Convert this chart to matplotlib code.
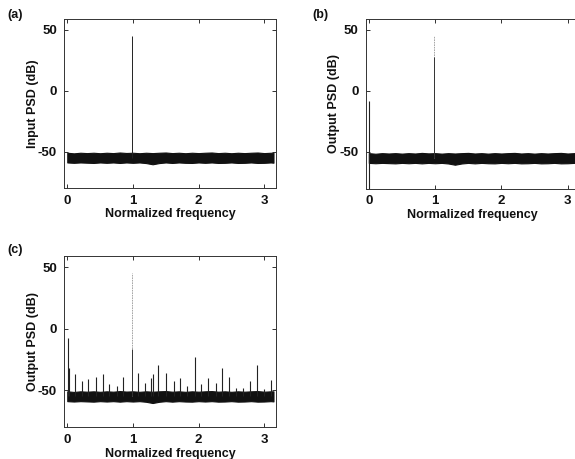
import matplotlib
matplotlib.use("Agg")
import matplotlib.pyplot as plt

plt.rcParams['font.family'] = ['Liberation Sans', 'DejaVu Sans']
plt.rcParams['axes.unicode_minus'] = False

# noise floor (dB)
floor_f = [0.0, 0.1, 0.2, 0.3, 0.4, 0.5, 0.6, 0.7, 0.8, 0.9, 1.0, 1.1,
           1.2, 1.3, 1.4, 1.5, 1.6, 1.7, 1.8, 1.9, 2.0, 2.1, 2.2, 2.3,
           2.4, 2.5, 2.6, 2.7, 2.8, 2.9, 3.0, 3.1, 3.1416]
floor_hi = [-51.0, -51.5, -51.0, -51.3, -51.0, -51.4, -51.0, -51.3, -50.8, -51.2, -51.0, -51.4,
            -51.0, -51.3, -51.0, -50.8, -51.3, -51.0, -51.4, -51.0, -51.3, -51.0, -50.8, -51.3,
            -51.0, -51.4, -51.0, -51.3, -51.0, -50.8, -51.3, -51.0, -51.0]
floor_lo = [-59.0, -59.3, -59.0, -59.2, -59.4, -59.0, -59.3, -59.0, -59.4, -59.0, -59.3, -59.0,
            -59.5, -60.5, -59.5, -59.0, -59.4, -59.0, -59.3, -59.4, -59.0, -59.3, -59.0, -59.4,
            -59.3, -59.0, -59.4, -59.3, -59.0, -59.4, -59.3, -59.0, -59.2]

# main tone
tone_f = 0.98
tone_db = 45

# (b) DC term
b_dc_f = 0.0
b_dc_top = -8
b_dc_bottom = -85
b_tone_solid = 28

# (c) intermodulation spurs
c_spur_f = [0.01, 0.03, 0.12, 0.23, 0.32, 0.44, 0.54, 0.64, 0.75, 0.85,
            1.07, 1.18, 1.28, 1.31, 1.38, 1.50, 1.62, 1.72, 1.83, 1.94,
            2.04, 2.15, 2.26, 2.36, 2.46, 2.57, 2.67, 2.78, 2.89, 3.00, 3.11]
c_spur_db = [-8, -32, -37, -43, -41, -39, -37, -45, -47, -39,
             -36, -44, -40, -37, -30, -36, -43, -40, -47, -23,
             -45, -40, -44, -32, -39, -48, -48, -43, -30, -49, -42]
c_tone_solid = -17

fig = plt.figure(figsize=(5.75, 4.59), dpi=100)
ax1 = fig.add_axes([64/575, 271/459, 212/575, 169/459])
ax2 = fig.add_axes([365.5/575, 270.5/459, 214/575, 169.5/459])
ax3 = fig.add_axes([64/575, 32/459, 212/575, 171/459])

ink = '#111111'

def setup(ax, ylabel):
    ax.fill_between(floor_f, floor_lo, floor_hi, color=ink, lw=0.8)
    ax.set_xlim(-0.05, 3.18)
    ax.set_ylim(-80, 59)
    ax.set_xticks([0, 1, 2, 3])
    ax.set_yticks([-50, 0, 50])
    ax.tick_params(direction='in', length=3, width=0.6, labelsize=9.5,
                   top=True, right=True, pad=5, colors=ink)
    for lab in ax.get_xticklabels() + ax.get_yticklabels():
        lab.set_fontweight('bold')
    for s in ax.spines.values():
        s.set_linewidth(0.7)
        s.set_color('#333333')
    ax.set_xlabel('Normalized frequency', fontsize=9, fontweight='bold', color=ink)
    ax.set_ylabel(ylabel, fontsize=9, fontweight='bold', color=ink)
    ax.xaxis.set_label_coords(0.5, -0.12)
    ax.yaxis.set_label_coords(-0.12, 0.5)

# (a)
setup(ax1, 'Input PSD (dB)')
ax1.vlines(tone_f, -55, tone_db, color='#222222', lw=0.7)

# (b)
setup(ax2, 'Output PSD (dB)')
ax2.vlines(b_dc_f, b_dc_bottom, b_dc_top, color='#222222', lw=0.8)
ax2.vlines(tone_f, -55, tone_db, color='#999999', lw=0.6, linestyles=(0, (2, 1)))
ax2.vlines(tone_f, -55, b_tone_solid, color='#333333', lw=0.7)

# (c)
setup(ax3, 'Output PSD (dB)')
ax3.vlines(c_spur_f, -55, c_spur_db, color='#222222', lw=0.8)
ax3.vlines(tone_f, -55, tone_db, color='#999999', lw=0.6, linestyles=(0, (2, 1)))
ax3.vlines(tone_f, -55, c_tone_solid, color='#333333', lw=0.7)

fig.text(15/575, 1 - 15/459, '(a)', fontsize=9, fontweight='bold', ha='center', va='center', color=ink)
fig.text(320/575, 1 - 15/459, '(b)', fontsize=9, fontweight='bold', ha='center', va='center', color=ink)
fig.text(15/575, 1 - 250/459, '(c)', fontsize=9, fontweight='bold', ha='center', va='center', color=ink)

fig.savefig('out.png', dpi=100)
